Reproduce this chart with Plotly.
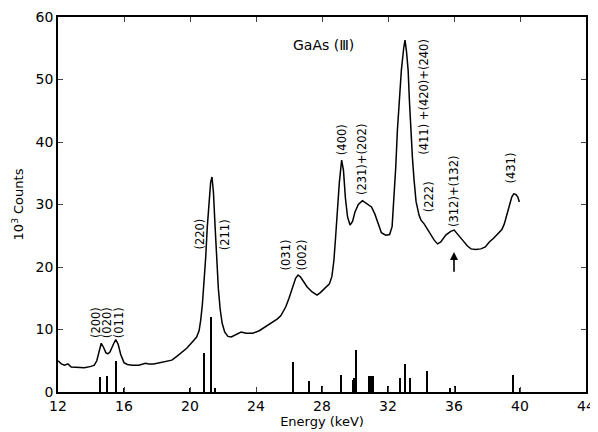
import plotly.graph_objects as go

# Measured spectrum (energy keV, 10^3 counts)
energy = [12.0, 12.2, 12.4, 12.6, 12.8, 13.2, 13.6, 14.0, 14.2, 14.35, 14.5, 14.62, 14.75, 14.9, 15.02,
          15.15, 15.35, 15.5, 15.65, 15.8, 16.0, 16.2, 16.5, 16.9, 17.3, 17.5, 17.8, 18.2, 18.6, 18.9,
          19.2, 19.5, 19.8, 20.1, 20.4, 20.55, 20.65, 20.75, 20.85, 20.95, 21.05, 21.15, 21.25, 21.33,
          21.42, 21.52, 21.62, 21.72, 21.83, 21.95, 22.1, 22.3, 22.5, 22.8, 23.1, 23.4, 23.8, 24.2,
          24.6, 25.0, 25.3, 25.5, 25.8, 26.0, 26.2, 26.4, 26.55, 26.7, 26.9, 27.1, 27.4, 27.7, 27.9,
          28.2, 28.45, 28.6, 28.72, 28.83, 28.93, 29.05, 29.19, 29.3, 29.42, 29.55, 29.7, 29.85, 30.0,
          30.2, 30.45, 30.7, 31.0, 31.2, 31.4, 31.6, 31.86, 32.1, 32.25, 32.37, 32.47, 32.57, 32.7,
          32.81, 32.95, 33.03, 33.12, 33.22, 33.3, 33.38, 33.48, 33.58, 33.7, 33.88, 34.0, 34.19,
          34.4, 34.6, 34.8, 35.0, 35.2, 35.5, 35.8, 36.01, 36.25, 36.52, 36.8, 37.03, 37.3, 37.63,
          37.9, 38.14, 38.4, 38.65, 38.9, 39.05, 39.2, 39.36, 39.5, 39.62, 39.75, 39.87, 39.96]
counts = [5.0, 4.5, 4.3, 4.5, 4.0, 4.0, 3.9, 4.1, 4.3, 5.0, 6.5, 7.8, 7.2, 6.3, 6.1,
          6.4, 7.6, 8.4, 7.6, 6.0, 4.7, 4.4, 4.3, 4.3, 4.6, 4.5, 4.5, 4.7, 4.9, 5.1,
          5.7, 6.3, 7.0, 7.9, 8.8, 9.8, 11.5, 14.0, 17.5, 21.5, 26.5, 30.5, 33.5, 34.4,
          32.0, 26.5, 21.0, 16.5, 13.2, 11.0, 9.6, 8.9, 8.8, 9.2, 9.6, 9.4, 9.4, 9.8,
          10.5, 11.2, 11.7, 12.2, 13.6, 15.0, 16.8, 18.2, 18.7, 18.4, 17.6, 16.8, 16.0, 15.5, 15.9,
          16.6, 17.3, 18.5, 21.0, 25.0, 29.0, 33.5, 37.1, 35.5, 31.0, 28.0, 26.7, 27.3, 28.8,
          30.0, 30.6, 30.2, 29.6, 28.5, 26.8, 25.5, 25.1, 25.2, 26.5, 31.0, 36.0, 41.9, 47.5,
          51.5, 55.0, 56.3, 54.5, 51.5, 46.5, 41.9, 37.5, 33.9, 30.5, 28.3, 27.5, 26.9,
          26.0, 25.3, 24.3, 23.7, 24.0, 25.1, 25.7, 25.9, 25.2, 24.3, 23.4, 22.9, 22.8, 22.9,
          23.2, 24.0, 24.6, 25.3, 26.0, 26.9, 28.3, 30.1, 31.2, 31.7, 31.6, 31.2, 30.4]

# Calculated line positions / intensities (stick spectrum)
stick_energy = [14.58, 15.0, 15.51, 16.0, 20.0, 20.86, 21.28, 21.53, 26.25, 27.2, 28.01, 29.19,
                29.9, 29.98, 30.08, 30.89, 30.99, 31.09, 32.0, 32.77, 33.03, 33.34, 34.35,
                35.77, 36.06, 39.6, 40.02]
stick_height = [2.4, 2.5, 5.0, 0.7, 0.7, 6.3, 12.0, 0.7, 4.8, 1.8, 0.9, 2.8,
                2.0, 2.3, 6.8, 2.5, 2.5, 2.5, 0.9, 2.3, 4.5, 2.3, 3.4,
                0.7, 0.9, 2.8, 0.7]

# Peak labels (text, x, y)
label_text = ["(200)", "(020)", "(011)", "(220)", "(211)", "(031)", "(002)", "(400)",
              "(231)+(202)", "(411) +(420)+(240)", "(222)", "(312)+(132)", "(431)"]
label_x = [14.35, 14.96, 15.69, 20.55, 22.13, 25.84, 26.81, 29.19, 30.4, 34.17, 34.5, 36.0, 39.47]
label_y = [11.15, 11.15, 11.15, 25.2, 25.1, 21.9, 21.9, 40.4, 37.2, 47.2, 31.2, 32.0, 35.8]

# Marker arrow below the (312)+(132) peak: tail and head
arrow_x = 36.0
arrow_tail_y = 19.0
arrow_head_y = 22.4

x_ticks = [12, 16, 20, 24, 28, 32, 36, 40, 44]
y_ticks = [0, 10, 20, 30, 40, 50, 60]

FONT = "DejaVu Sans"

fig = go.Figure()
fig.add_trace(go.Bar(x=stick_energy, y=stick_height, width=0.09,
                     marker=dict(color="black", line=dict(width=0))))
fig.add_trace(go.Scatter(x=energy, y=counts, mode="lines",
                         line=dict(color="black", width=1.5)))

for t, x, y in zip(label_text, label_x, label_y):
    fig.add_annotation(x=x, y=y, text=t, textangle=-90, showarrow=False,
                       xanchor="center", yanchor="middle",
                       font=dict(family=FONT, size=11.5, color="black"))

fig.add_annotation(x=28.1, y=55.6, text="GaAs (Ⅲ)", showarrow=False,
                   font=dict(family=FONT, size=14, color="black"))
fig.add_annotation(x=arrow_x, y=arrow_head_y, ax=arrow_x, ay=arrow_tail_y,
                   axref="x", ayref="y", text="", showarrow=True,
                   arrowhead=2, arrowsize=1, arrowwidth=1.6, arrowcolor="black")

# The page body has an 8px default margin, so the figure is sized to fit
fig.update_layout(
    width=590, height=424,
    margin=dict(l=50, r=12, t=9, b=40, autoexpand=False),
    paper_bgcolor="white", plot_bgcolor="white",
    showlegend=False, bargap=0,
    font=dict(family=FONT, size=13, color="black"),
)
fig.update_xaxes(range=[12, 44], tickvals=x_ticks, ticks="inside", ticklen=5,
                 tickfont=dict(size=14),
                 showline=True, linecolor="black", linewidth=1.5, mirror="allticks",
                 showgrid=False, zeroline=False, automargin=False,
                 title=dict(text="Energy (keV)", standoff=4, font=dict(size=13)))
fig.update_yaxes(range=[0, 60], tickvals=y_ticks, ticks="inside", ticklen=5,
                 tickfont=dict(size=14),
                 showline=True, linecolor="black", linewidth=1.5, mirror="allticks",
                 showgrid=False, zeroline=False, automargin=False,
                 title=dict(text="10<sup>3</sup> Counts", standoff=9, font=dict(size=13)))

fig.write_html("out.html")
